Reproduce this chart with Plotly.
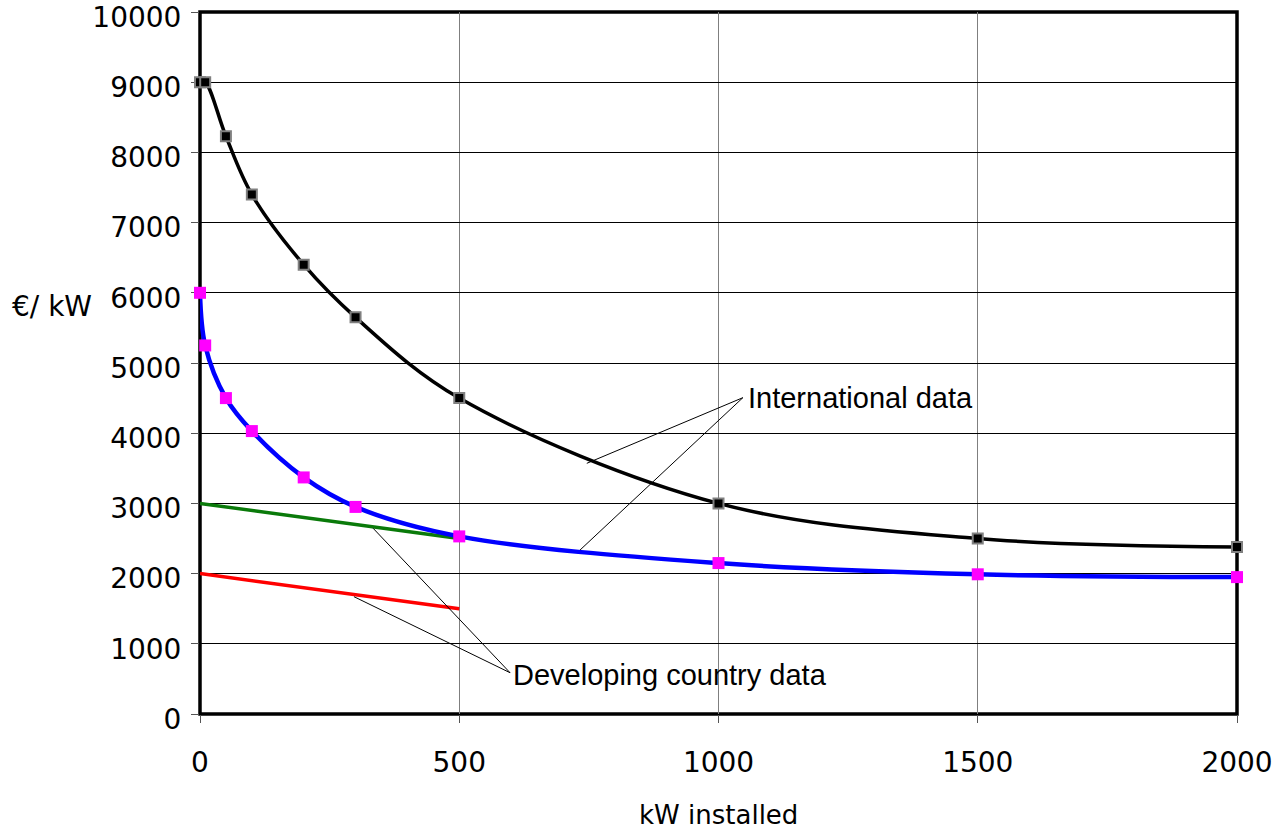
import plotly.graph_objects as go

# Data
x_points = [0, 10, 50, 100, 200, 300, 500, 1000, 1500, 2000]
intl_high = [9000, 9000, 8230, 7400, 6400, 5650, 4500, 3000, 2500, 2380]
intl_low = [6000, 5250, 4500, 4030, 3370, 2950, 2530, 2150, 1990, 1950]
dev_x = [0, 500]
dev_high = [3000, 2500]
dev_low = [2000, 1500]
y_ticks = [0, 1000, 2000, 3000, 4000, 5000, 6000, 7000, 8000, 9000, 10000]
x_ticks = [0, 500, 1000, 1500, 2000]

fig = go.Figure()

fig.add_trace(go.Scatter(x=dev_x, y=dev_high, mode="lines",
                         line=dict(color="#0a7a0a", width=3.5), cliponaxis=False))
fig.add_trace(go.Scatter(x=dev_x, y=dev_low, mode="lines",
                         line=dict(color="#ff0000", width=3.5), cliponaxis=False))
fig.add_trace(go.Scatter(x=x_points, y=intl_high, mode="lines",
                         line=dict(color="black", width=3.5, shape="spline", smoothing=1.0),
                         cliponaxis=False))
fig.add_trace(go.Scatter(x=x_points, y=intl_low, mode="lines",
                         line=dict(color="#0000ff", width=4.5, shape="spline", smoothing=1.0),
                         cliponaxis=False))
fig.add_trace(go.Scatter(x=x_points, y=intl_high, mode="markers",
                         marker=dict(symbol="square", size=10, color="black",
                                     line=dict(color="#808080", width=2)),
                         cliponaxis=False))
fig.add_trace(go.Scatter(x=x_points, y=intl_low, mode="markers",
                         marker=dict(symbol="square", size=12, color="#ff00ff",
                                     line=dict(width=0)),
                         cliponaxis=False))

# Plot frame
fig.add_shape(type="rect", xref="paper", yref="paper", x0=0, y0=0, x1=1, y1=1,
              line=dict(color="black", width=3.5), layer="below")

# Leader lines
line_style = dict(color="black", width=1)
fig.add_shape(type="line", xref="x", yref="y", x0=1047, y0=4506, x1=746, y1=3571, line=line_style)
fig.add_shape(type="line", xref="x", yref="y", x0=1047, y0=4506, x1=733, y1=2336, line=line_style)
fig.add_shape(type="line", xref="x", yref="y", x0=598, y0=588, x1=334, y1=2645, line=line_style)
fig.add_shape(type="line", xref="x", yref="y", x0=598, y0=588, x1=297, y1=1671, line=line_style)

fig.add_annotation(x=1053, y=4500, xref="x", yref="y", text="International data",
                   showarrow=False, xanchor="left", yanchor="middle",
                   font=dict(family="Liberation Sans, Arial", size=29, color="black"))
fig.add_annotation(x=600, y=556, xref="x", yref="y", text="Developing country data",
                   showarrow=False, xanchor="left", yanchor="middle",
                   font=dict(family="Liberation Sans, Arial", size=29, color="black"))

# Axis titles
fig.add_annotation(x=-0.143, y=0.58, xref="paper", yref="paper", text="€/ kW",
                   showarrow=False, xanchor="center", yanchor="middle",
                   font=dict(family="DejaVu Sans", size=28, color="black"))
fig.add_annotation(x=0.5, y=-0.144, xref="paper", yref="paper", text="kW installed",
                   showarrow=False, xanchor="center", yanchor="middle",
                   font=dict(family="DejaVu Sans", size=26, color="black"))

fig.update_layout(
    width=1278, height=831,
    margin=dict(l=200, r=41, t=12, b=117, autoexpand=False),
    paper_bgcolor="white", plot_bgcolor="white",
    showlegend=False,
    font=dict(family="DejaVu Sans", size=28, color="black"),
)
fig.update_xaxes(range=[0, 2000], tickmode="array", tickvals=x_ticks,
                 ticktext=[str(v) for v in x_ticks], automargin=False,
                 showgrid=True, gridcolor="#7f7f7f", gridwidth=1,
                 showline=False,
                 ticks="outside", ticklen=8, tickcolor="#555555", tickwidth=1,
                 ticklabelstandoff=15, zeroline=False, layer="below traces",
                 ticklabeloverflow="allow",
                 tickfont=dict(family="DejaVu Sans", size=28, color="black"))
fig.update_yaxes(range=[0, 10000], tickmode="array", tickvals=y_ticks,
                 ticktext=[str(v) for v in y_ticks], automargin=False,
                 showgrid=True, gridcolor="black", gridwidth=1,
                 showline=False,
                 ticks="outside", ticklen=8, tickcolor="#555555", tickwidth=1,
                 ticklabelstandoff=4, ticklabelshift=5, zeroline=False, layer="below traces",
                 ticklabeloverflow="allow",
                 tickfont=dict(family="DejaVu Sans", size=28, color="black"))

fig.write_html("out.html")
